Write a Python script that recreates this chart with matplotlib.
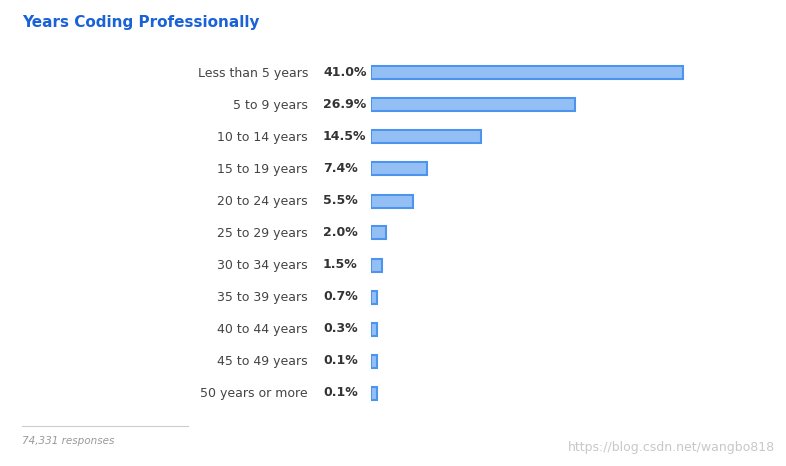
import matplotlib
matplotlib.use("Agg")
import matplotlib.pyplot as plt

categories = ["Less than 5 years", "5 to 9 years", "10 to 14 years", "15 to 19 years",
              "20 to 24 years", "25 to 29 years", "30 to 34 years", "35 to 39 years",
              "40 to 44 years", "45 to 49 years", "50 years or more"]
values = [41.0, 26.9, 14.5, 7.4, 5.5, 2.0, 1.5, 0.7, 0.3, 0.1, 0.1]
title = "Years Coding Professionally"
footer = "74,331 responses"

W, H = 786, 466
fig = plt.figure(figsize=(W/100, H/100), dpi=100)
fig.patch.set_facecolor("white")
ax = fig.add_axes([371/W, (H-409)/H, 400/W, 352/H])
xmax = 400/7.6
ax.set_xlim(0, xmax)
ax.set_ylim(len(categories)-0.5, -0.5)
ax.axis("off")
min_w = 0.75
for i, (c, v) in enumerate(zip(categories, values)):
    ax.barh(i, max(v, min_w), height=13/32, left=0, color="#93bff5",
            edgecolor="#4d94ef", linewidth=1.5)
    fig.text(308/W, 1-(73+32*i)/H, c, ha="right", va="center", fontsize=9, color="#444444")
    fig.text(323/W, 1-(73+32*i)/H, f"{v:.1f}%", ha="left", va="center", fontsize=9,
             fontweight="bold", color="#333333")

fig.text(22/W, 1-22/H, title, ha="left", va="center", fontsize=11, fontweight="bold",
         color="#1a62d6")
fig.add_artist(plt.Line2D([22/W, 188/W], [1-426/H, 1-426/H], color="#cccccc", lw=0.8))
fig.text(22/W, 1-441/H, footer, ha="left", va="center", fontsize=7.5, style="italic",
         color="#999999")
fig.text(775/W, 1-447/H, "https://blog.csdn.net/wangbo818", ha="right", va="center",
         fontsize=9, color="#c8c8c8")
fig.savefig("out.png", dpi=100)
